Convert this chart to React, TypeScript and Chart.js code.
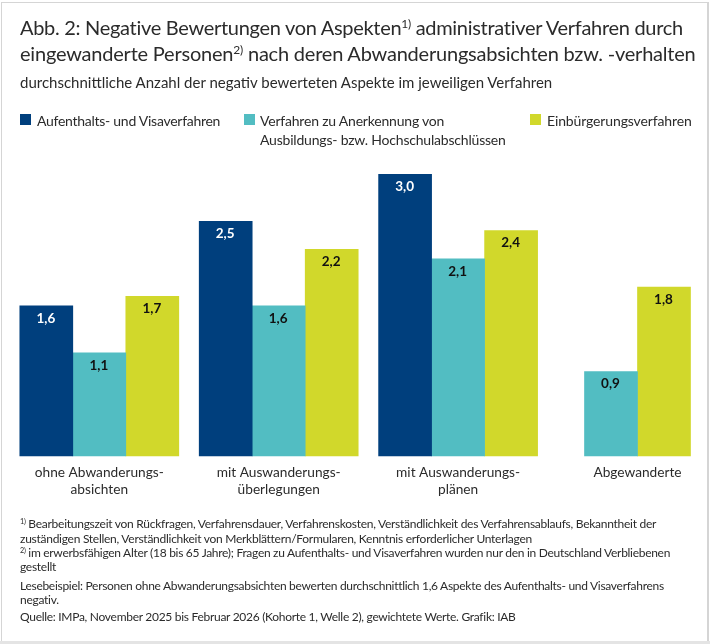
import React, { useEffect, useRef } from 'react';
import { Chart, registerables } from 'chart.js';

Chart.register(...registerables);

const categories = [
    ['ohne Abwanderungs-', 'absichten'],
    ['mit Auswanderungs-', 'überlegungen'],
    ['mit Auswanderungs-', 'plänen'],
    ['Abgewanderte'],
];
const seriesNames = [
    'Aufenthalts- und Visaverfahren',
    'Verfahren zu Anerkennung von Ausbildungs- bzw. Hochschulabschlüssen',
    'Einbürgerungsverfahren',
];
const aufenthalt = [1.6, 2.5, 3.0, null];
const anerkennung = [1.1, 1.6, 2.1, 0.9];
const einbuergerung = [1.7, 2.2, 2.4, 1.8];

const NAVY = '#003f7d';
const TEAL = '#52bdc2';
const YELLOW = '#d1d82b';
const FONT = 'Lato, sans-serif';
const TEXT = '#2b2b2b';

// writes the value inside the top of each bar
const barValues = {
    id: 'barValues',
    afterDatasetsDraw(chart: Chart) {
        const { ctx } = chart;
        ctx.save();
        ctx.font = `bold 13.5px ${FONT}`;
        ctx.textAlign = 'center';
        ctx.textBaseline = 'middle';
        chart.data.datasets.forEach((ds, i) => {
            chart.getDatasetMeta(i).data.forEach((bar, j) => {
                const v = ds.data[j] as number | null;
                if (v == null) return;
                ctx.fillStyle = i === 0 ? '#ffffff' : '#111111';
                ctx.fillText(v.toFixed(1).replace('.', ','), bar.x - 0.5, bar.y + 12.5);
            });
        });
        ctx.restore();
    },
};

const line = (top: number, left: number, size: number, spacing = 0): React.CSSProperties => ({
    position: 'absolute',
    top,
    left,
    fontSize: size,
    letterSpacing: spacing,
    lineHeight: 1,
    whiteSpace: 'nowrap',
    color: TEXT,
});

const sup: React.CSSProperties = { fontSize: '0.6em', verticalAlign: 'baseline', position: 'relative', top: '-0.6em', lineHeight: 0 };

export default function App() {
    const canvasRef = useRef<HTMLCanvasElement>(null);

    useEffect(() => {
        if (!canvasRef.current) return;
        const chart = new Chart(canvasRef.current, {
            type: 'bar',
            data: {
                labels: categories,
                datasets: [
                    { label: seriesNames[0], data: aufenthalt, backgroundColor: NAVY, clip: false },
                    { label: seriesNames[1], data: anerkennung, backgroundColor: TEAL, clip: false },
                    { label: seriesNames[2], data: einbuergerung, backgroundColor: YELLOW, clip: false },
                ],
            },
            options: {
                animation: false,
                responsive: false,
                devicePixelRatio: 1,
                layout: { autoPadding: false, padding: { left: 99.3, right: 72.5, top: 174.3, bottom: 128 } },
                datasets: { bar: { barThickness: 53, skipNull: true, borderWidth: 0 } },
                plugins: { legend: { display: false }, tooltip: { enabled: false } },
                scales: {
                    x: {
                        offset: false,
                        afterFit: (scale) => {
                            scale.height = 60;
                        },
                        grid: { display: false },
                        border: { display: false },
                        ticks: {
                            autoSkip: false,
                            maxRotation: 0,
                            color: TEXT,
                            padding: 0,
                            font: { family: FONT, size: 13.7, lineHeight: 1.24 },
                        },
                    },
                    y: { display: false, min: 0, max: 3 },
                },
            },
            plugins: [barValues],
        });
        return () => chart.destroy();
    }, []);

    return (
        <div style={{ position: 'absolute', left: 0, top: 0, width: 710, height: 644, overflow: 'hidden', background: '#fff', fontFamily: FONT }}>
            <div style={{ position: 'absolute', left: 1, top: 2, width: 708, height: 640, borderLeft: '1px solid #d5d5d5', borderTop: '1px solid #d5d5d5', borderRight: '2px solid #d5d5d5', boxSizing: 'border-box' }} />
            <div style={{ position: 'absolute', left: 0, top: 641, width: 710, height: 3, background: '#e4e4e4' }} />
            <canvas ref={canvasRef} width={710} height={644} style={{ position: 'absolute', left: 0, top: 0 }} />

            <div style={line(17, 20, 20, -0.3)}>Abb. 2: Negative Bewertungen von Aspekten<span style={sup}>1)</span> administrativer Verfahren durch</div>
            <div style={line(43, 20, 20, -0.21)}>eingewanderte Personen<span style={sup}>2)</span> nach deren Abwanderungsabsichten bzw. -verhalten</div>
            <div style={line(75, 20, 15)}>durchschnittliche Anzahl der negativ bewerteten Aspekte im jeweiligen Verfahren</div>

            <div style={{ position: 'absolute', left: 20, top: 114, width: 11, height: 11, background: NAVY }} />
            <div style={line(114, 37, 14, -0.27)}>Aufenthalts- und Visaverfahren</div>
            <div style={{ position: 'absolute', left: 244, top: 114, width: 11, height: 11, background: TEAL }} />
            <div style={line(114, 260, 14, -0.2)}>Verfahren zu Anerkennung von</div>
            <div style={line(133, 260, 14, -0.2)}>Ausbildungs- bzw. Hochschulabschlüssen</div>
            <div style={{ position: 'absolute', left: 530, top: 114, width: 11, height: 11, background: YELLOW }} />
            <div style={line(114, 547, 14, -0.13)}>Einbürgerungsverfahren</div>

            <div style={line(518, 20, 12, -0.27)}><span style={sup}>1)</span> Bearbeitungszeit von Rückfragen, Verfahrensdauer, Verfahrenskosten, Verständlichkeit des Verfahrensablaufs, Bekanntheit der</div>
            <div style={line(533, 20, 12, -0.27)}>zuständigen Stellen, Verständlichkeit von Merkblättern/Formularen, Kenntnis erforderlicher Unterlagen</div>
            <div style={line(547, 20, 12, -0.29)}><span style={sup}>2)</span> im erwerbsfähigen Alter (18 bis 65 Jahre); Fragen zu Aufenthalts- und Visaverfahren wurden nur den in Deutschland Verbliebenen</div>
            <div style={line(561, 20, 12, -0.27)}>gestellt</div>
            <div style={line(580, 20, 12, -0.29)}>Lesebeispiel: Personen ohne Abwanderungsabsichten bewerten durchschnittlich 1,6 Aspekte des Aufenthalts- und Visaverfahrens</div>
            <div style={line(594, 20, 12, -0.27)}>negativ.</div>
            <div style={line(611, 20, 12, -0.29)}>Quelle: IMPa, November 2025 bis Februar 2026 (Kohorte 1, Welle 2), gewichtete Werte. Grafik: IAB</div>
        </div>
    );
}
